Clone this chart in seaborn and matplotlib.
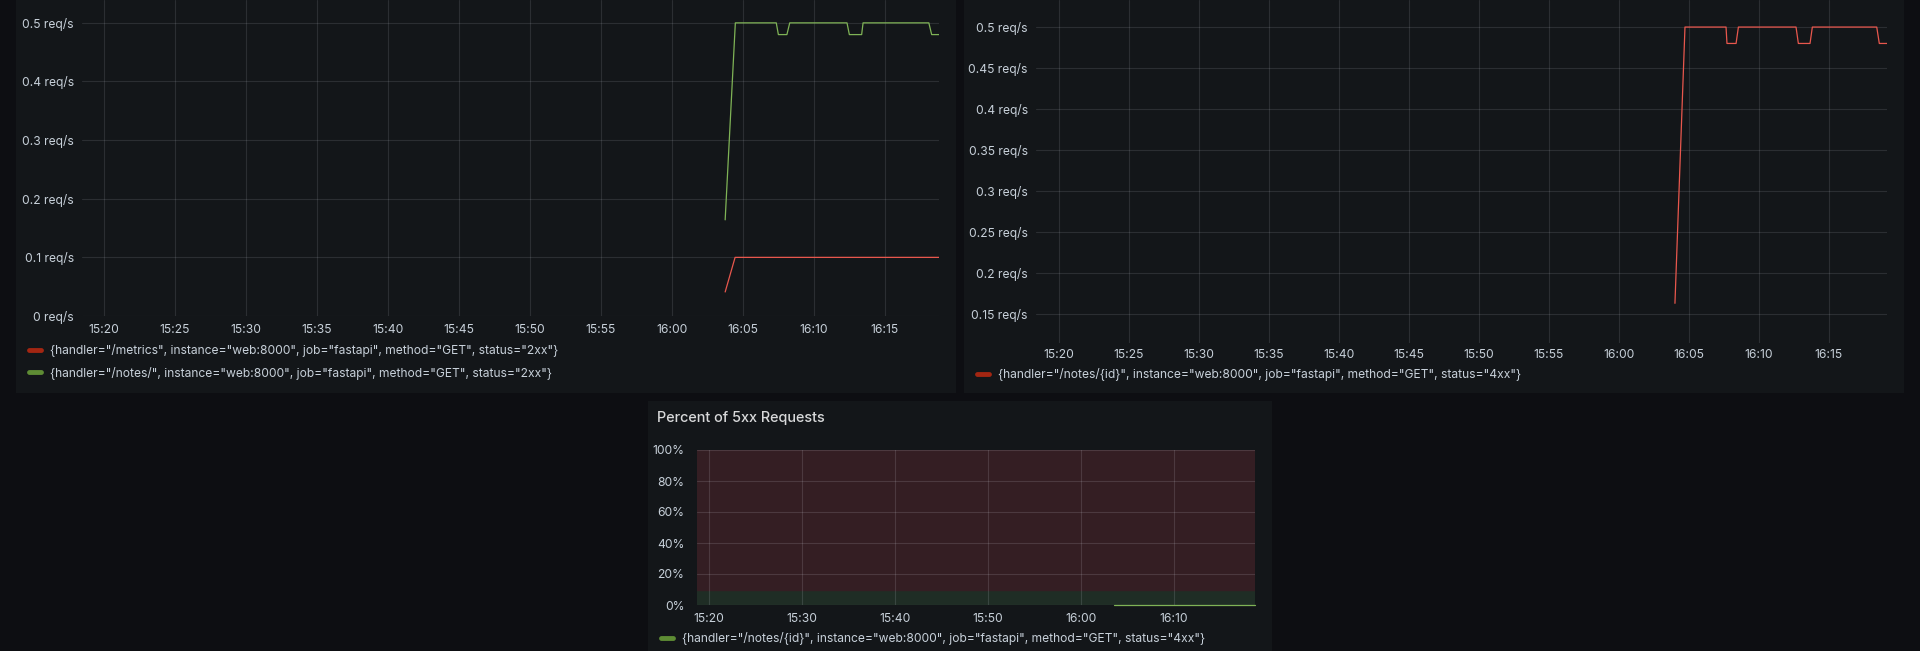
import pandas as pd
import matplotlib
matplotlib.use("Agg")
import matplotlib.pyplot as plt
import matplotlib.dates as mdates
from matplotlib.lines import Line2D
from matplotlib.patches import Rectangle
from matplotlib.ticker import FuncFormatter, MultipleLocator
import seaborn as sns

# ---- data ----
DAY = "2024-05-20 "

metrics_label = '{handler="/metrics", instance="web:8000", job="fastapi", method="GET", status="2xx"}'
notes_label = '{handler="/notes/", instance="web:8000", job="fastapi", method="GET", status="2xx"}'
notes_id_label = '{handler="/notes/{id}", instance="web:8000", job="fastapi", method="GET", status="4xx"}'

p1_metrics_time = ["16:03:46", "16:04:28", "16:18:50"]
p1_metrics_rate = [0.041, 0.1, 0.1]
p1_notes_time = ["16:03:46", "16:04:29", "16:07:22", "16:07:31", "16:08:07", "16:08:19",
                 "16:12:21", "16:12:31", "16:13:23", "16:13:29", "16:18:07", "16:18:19", "16:18:50"]
p1_notes_rate = [0.164, 0.5, 0.5, 0.48, 0.48, 0.5, 0.5, 0.48, 0.48, 0.5, 0.5, 0.48, 0.48]

p2_time = ["16:04:01", "16:04:44", "16:07:40", "16:07:44", "16:08:23", "16:08:33",
           "16:12:40", "16:12:50", "16:13:40", "16:13:50", "16:18:26", "16:18:37", "16:19:10"]
p2_rate = [0.163, 0.5, 0.5, 0.48, 0.48, 0.5, 0.5, 0.48, 0.48, 0.5, 0.5, 0.48, 0.48]

p3_title = "Percent of 5xx Requests"
p3_time = ["16:03:30", "16:18:42"]
p3_pct = [0, 0]
p3_thresholds = [0, 10, 100]

# ---- look ----
W, H = 1920, 651
PAGE = "#0d0e12"
PANEL = "#131619"
TEXT = "#c7d0d9"
GRID = "#eef6ff"
RED_LINE = "#e8574d"
GREEN_LINE = "#7fb356"
RED_SWATCH = "#a32612"
GREEN_SWATCH = "#5e8c34"
TH_GREEN = "#1f2d25"
TH_RED = "#341e23"
FS = 8.7
LW = 0.9


def ts(times):
    return pd.to_datetime([DAY + t for t in times])


def box(l, t, r, b):
    return [l / W, 1 - b / H, (r - l) / W, (b - t) / H]


sns.set_theme(style="dark")
plt.rcParams["font.family"] = ["Inter", "DejaVu Sans"]

fig = plt.figure(figsize=(W / 100, H / 100), dpi=100, facecolor=PAGE)

for l, t, r, b in [(16, -10, 956, 393), (964, -10, 1904, 393), (648, 401, 1272, 661)]:
    fig.patches.append(Rectangle((l / W, 1 - b / H), (r - l) / W, (b - t) / H,
                                 transform=fig.transFigure, facecolor=PANEL,
                                 edgecolor="none", zorder=-5))


def style_axis(ax, minutes, xpad, ypad, grid_alpha=0.11):
    ax.set_facecolor(PANEL)
    ax.patch.set_alpha(0)
    for s in ax.spines.values():
        s.set_visible(False)
    ax.grid(True, color=GRID, alpha=grid_alpha, lw=0.8)
    ax.xaxis.set_major_locator(mdates.MinuteLocator(byminute=range(0, 60, minutes)))
    ax.xaxis.set_major_formatter(mdates.DateFormatter("%H:%M"))
    ax.tick_params(axis="x", length=0, pad=xpad, labelsize=FS, labelcolor=TEXT)
    ax.tick_params(axis="y", length=0, pad=ypad, labelsize=FS, labelcolor=TEXT)
    ax.set_xlabel("")
    ax.set_ylabel("")


def add_legend(ax, colors, labels, x, y):
    handles = [Line2D([], [], color=c, lw=3.5, solid_capstyle="round") for c in colors]
    ax.legend(handles, labels, loc="upper left", bbox_to_anchor=(x / W, 1 - y / H),
              bbox_transform=fig.transFigure, frameon=False, fontsize=FS,
              labelcolor=TEXT, handlelength=1.0, handletextpad=0.75,
              labelspacing=0.8, borderpad=0, borderaxespad=0)


# ---- panel 1: 2xx request rate ----
ax1 = fig.add_axes(box(82, 0, 939, 316))
df1 = pd.concat([
    pd.DataFrame({"time": ts(p1_metrics_time), "rate": p1_metrics_rate, "series": metrics_label}),
    pd.DataFrame({"time": ts(p1_notes_time), "rate": p1_notes_rate, "series": notes_label}),
])
sns.lineplot(data=df1, x="time", y="rate", hue="series",
             palette={metrics_label: RED_LINE, notes_label: GREEN_LINE},
             lw=LW, legend=False, ax=ax1)
ax1.set_xlim(pd.Timestamp(DAY + "15:18:27"), pd.Timestamp(DAY + "16:18:50"))
ax1.set_ylim(0, 0.539)
ax1.yaxis.set_major_locator(MultipleLocator(0.1))
ax1.yaxis.set_major_formatter(FuncFormatter(lambda v, _: f"{v:.1f} req/s".replace("0.0 ", "0 ")))
style_axis(ax1, 5, 6, 6)
add_legend(ax1, [RED_SWATCH, GREEN_SWATCH], [metrics_label, notes_label], 29, 344)

# ---- panel 2: 4xx request rate ----
ax2 = fig.add_axes(box(1036, 0, 1887, 343))
df2 = pd.DataFrame({"time": ts(p2_time), "rate": p2_rate, "series": notes_id_label})
sns.lineplot(data=df2, x="time", y="rate", color=RED_LINE, lw=LW, ax=ax2)
ax2.set_xlim(pd.Timestamp(DAY + "15:18:22"), pd.Timestamp(DAY + "16:19:10"))
ax2.set_ylim(0.1146, 0.533)
ax2.yaxis.set_major_locator(MultipleLocator(0.05))
ax2.yaxis.set_major_formatter(FuncFormatter(lambda v, _: f"{round(v, 2):g} req/s"))
style_axis(ax2, 5, 4, 6)
add_legend(ax2, [RED_SWATCH], [notes_id_label], 977, 368)

# ---- panel 3: percent of 5xx ----
fig.text(657 / W, 1 - 418 / H, p3_title, color="#d8d9da", fontsize=10.4,
         fontweight="medium", va="center", ha="left")
ax3 = fig.add_axes(box(697, 450, 1255, 605))
ax3.axhspan(p3_thresholds[0], p3_thresholds[1], color=TH_GREEN, zorder=0)
ax3.axhspan(p3_thresholds[1], p3_thresholds[2], color=TH_RED, zorder=0)
df3 = pd.DataFrame({"time": ts(p3_time), "pct": p3_pct, "series": notes_id_label})
sns.lineplot(data=df3, x="time", y="pct", color=GREEN_LINE, lw=LW, ax=ax3)
for ln in ax3.lines:
    ln.set_clip_on(False)
ax3.set_xlim(pd.Timestamp(DAY + "15:18:43"), pd.Timestamp(DAY + "16:18:42"))
ax3.set_ylim(0, 100)
ax3.yaxis.set_major_locator(MultipleLocator(20))
ax3.yaxis.set_major_formatter(FuncFormatter(lambda v, _: f"{v:.0f}%"))
style_axis(ax3, 10, 6, 9, grid_alpha=0.13)
ax3.set_axisbelow(False)
add_legend(ax3, [GREEN_SWATCH], [notes_id_label], 661, 632)

fig.savefig("out.png", dpi=100, facecolor=PAGE)
